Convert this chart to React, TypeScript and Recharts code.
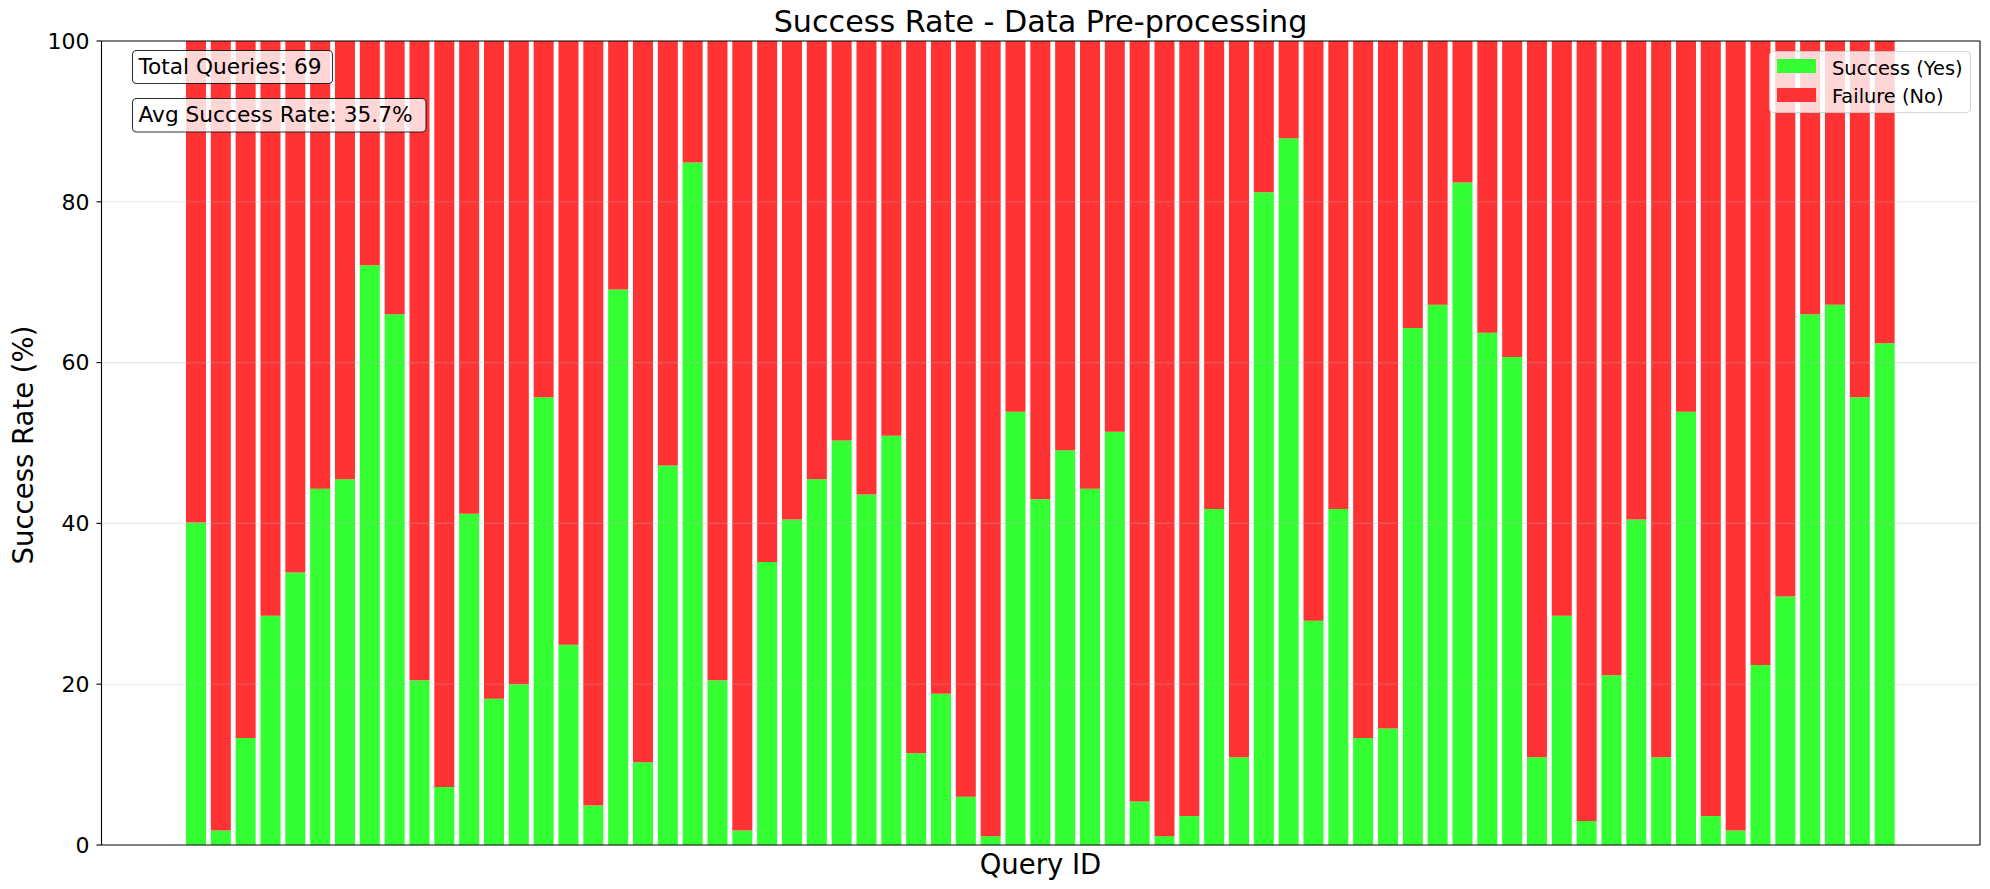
import { Bar, BarChart, CartesianGrid, Legend, ReferenceLine, XAxis, YAxis } from "recharts";

const QUERY_IDS: string[] = Array.from({ length: 69 }, (_, i) => `Q${i + 1}`);

// success rate per query, %
const SUCCESS: number[] = [
  40.1, 1.8, 13.3, 28.5, 33.9, 44.3, 45.5, 72.1, 66.0, 20.5,
  7.2, 41.2, 18.2, 20.0, 55.7, 24.9, 4.9, 69.1, 10.3, 47.2,
  84.9, 20.5, 1.8, 35.2, 40.5, 45.5, 50.3, 43.6, 50.9, 11.4,
  18.8, 6.0, 1.1, 53.9, 43.0, 49.1, 44.3, 51.4, 5.4, 1.1,
  3.6, 41.8, 10.9, 81.2, 87.9, 27.9, 41.8, 13.3, 14.5, 64.3,
  67.2, 82.4, 63.7, 60.7, 10.9, 28.5, 3.0, 21.1, 40.5, 10.9,
  53.9, 3.6, 1.8, 22.4, 30.9, 66.0, 67.2, 55.7, 62.4,
];

const Y_TICKS = [0, 20, 40, 60, 80, 100];

const TITLE = "Success Rate - Data Pre-processing";
const X_LABEL = "Query ID";
const Y_LABEL = "Success Rate (%)";
const TOTAL_TEXT = `Total Queries: ${SUCCESS.length}`;
const AVG_TEXT = "Avg Success Rate: 35.7%";

const GREEN = "#33ff33";
const RED = "#ff3333";
const FONT = "DejaVu Sans";
const SPINE = { stroke: "#000", strokeWidth: 1.1 };

const data = QUERY_IDS.map((id, i) => ({
  id,
  success: SUCCESS[i],
  failure: +(100 - SUCCESS[i]).toFixed(1),
}));

function LegendBox() {
  return (
    <svg width={203} height={63} style={{ display: "block" }}>
      <rect x={0.5} y={0.5} width={201} height={61} rx={4} fill="rgba(255,255,255,0.8)" stroke="rgba(204,204,204,0.8)" />
      <rect x={8} y={8} width={39} height={14} fill={GREEN} />
      <rect x={8} y={37} width={39} height={14} fill={RED} />
      <text x={63} y={23.7} fontSize={19.4} fontFamily={FONT} fill="#000">
        Success (Yes)
      </text>
      <text x={63} y={52.3} fontSize={19.4} fontFamily={FONT} fill="#000">
        Failure (No)
      </text>
    </svg>
  );
}

export default function App() {
  return (
    <div style={{ position: "absolute", left: 0, top: 0, width: 1990, height: 889, background: "#fff" }}>
      <BarChart
        width={1990}
        height={889}
        data={data}
        margin={{ top: 40, right: 10, left: 0, bottom: 43 }}
      >
        {/* right spine */}
        <CartesianGrid
          horizontal={false}
          verticalCoordinatesGenerator={({ offset }: any) => [offset.left + offset.width]}
          stroke="#000"
          strokeWidth={1.1}
        />
        <XAxis
          dataKey="id"
          height={1}
          tick={false}
          tickLine={false}
          axisLine={SPINE}
          padding={{ left: 82, right: 83 }}
        />
        <XAxis
          xAxisId="top"
          dataKey="id"
          orientation="top"
          height={1}
          tick={false}
          tickLine={false}
          axisLine={SPINE}
        />
        <YAxis
          width={101.5}
          domain={[0, 100]}
          ticks={Y_TICKS}
          tickSize={5}
          tickMargin={7}
          tickLine={SPINE}
          axisLine={SPINE}
          tick={{ fontSize: 22, fill: "#000", fontFamily: FONT }}
        />
        <Bar dataKey="success" name="Success (Yes)" stackId="a" fill={GREEN} isAnimationActive={false} />
        <Bar dataKey="failure" name="Failure (No)" stackId="a" fill={RED} isAnimationActive={false} />
        {/* grid drawn over the bars, as matplotlib does */}
        {Y_TICKS.slice(1, -1).map((v) => (
          <ReferenceLine key={v} y={v} stroke="#b0b0b0" strokeOpacity={0.3} strokeWidth={1.1} />
        ))}
        <Legend
          verticalAlign="middle"
          content={() => <LegendBox />}
          wrapperStyle={{ position: "absolute", left: 1769, top: 51, width: 203, height: 63 }}
        />
      </BarChart>

      <svg
        width={1990}
        height={889}
        style={{ position: "absolute", left: 0, top: 0, pointerEvents: "none" }}
      >
        <text x={1040.5} y={32.3} textAnchor="middle" fontSize={30.2} fontFamily={FONT} fill="#000">
          {TITLE}
        </text>
        <text x={1040.5} y={874} textAnchor="middle" fontSize={27.5} fontFamily={FONT} fill="#000">
          {X_LABEL}
        </text>
        <text
          x={33}
          y={445}
          textAnchor="middle"
          fontSize={27.5}
          fontFamily={FONT}
          fill="#000"
          transform="rotate(-90, 33, 445)"
        >
          {Y_LABEL}
        </text>

        <rect x={132.5} y={50.5} width={200} height={33} rx={4} fill="rgba(255,255,255,0.8)" stroke="rgba(0,0,0,0.8)" strokeWidth={1.1} />
        <text x={138.5} y={74} fontSize={21.7} fontFamily={FONT} fill="#000">
          {TOTAL_TEXT}
        </text>
        <rect x={132.5} y={98.5} width={293.5} height={33.5} rx={4} fill="rgba(255,255,255,0.8)" stroke="rgba(0,0,0,0.8)" strokeWidth={1.1} />
        <text x={138.5} y={121.7} fontSize={21.7} fontFamily={FONT} fill="#000">
          {AVG_TEXT}
        </text>
      </svg>
    </div>
  );
}
